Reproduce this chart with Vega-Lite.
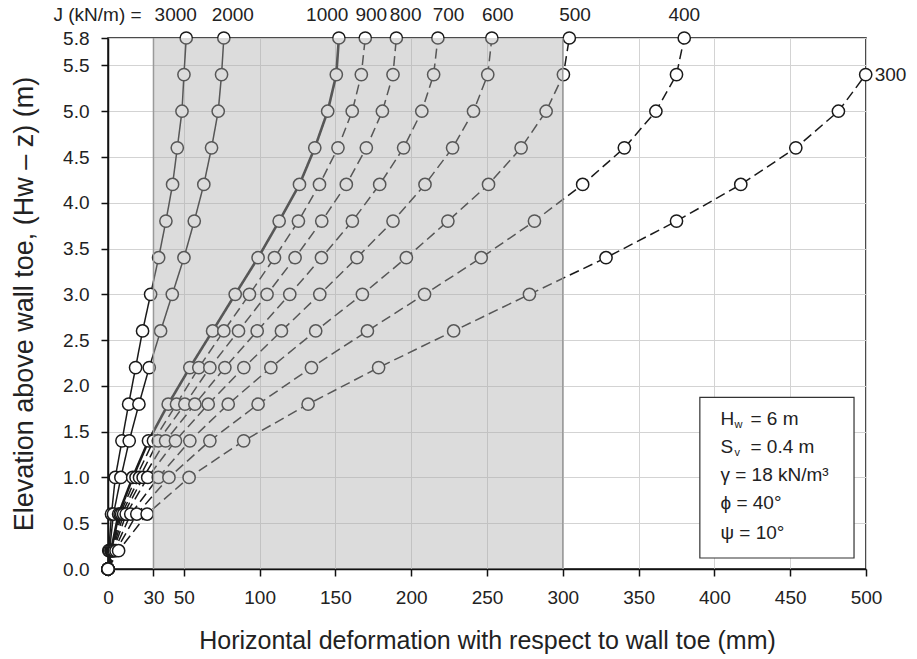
{
  "$schema": "https://vega.github.io/schema/vega-lite/v6.json",
  "width": 758,
  "height": 531,
  "autosize": {"type": "none"},
  "padding": {"left": 108, "top": 38, "right": 51, "bottom": 90},
  "background": "white",
  "config": {
    "font": "Liberation Sans",
    "view": {"stroke": "#111111", "strokeWidth": 1.5},
    "axis": {
      "domainColor": "#111111",
      "domainWidth": 1.5,
      "tickColor": "#111111",
      "tickWidth": 1.5,
      "tickSize": 7,
      "gridColor": "#d3d3d3",
      "gridWidth": 1,
      "labelFont": "Liberation Sans",
      "labelFontSize": 19,
      "labelColor": "#222222",
      "labelOverlap": false,
      "labelFlush": false,
      "titleFont": "Liberation Sans",
      "titleFontWeight": "normal",
      "titleColor": "#222222"
    }
  },
  "datasets": {
    "series": [
      {"J": 3000, "y": 0, "x": 0}, {"J": 3000, "y": 0.2, "x": 0.5}, {"J": 3000, "y": 0.6, "x": 2.3}, {"J": 3000, "y": 1.0, "x": 4.8}, {"J": 3000, "y": 1.4, "x": 9.2}, {"J": 3000, "y": 1.8, "x": 13.6}, {"J": 3000, "y": 2.2, "x": 18.2}, {"J": 3000, "y": 2.6, "x": 22.8}, {"J": 3000, "y": 3.0, "x": 28.1}, {"J": 3000, "y": 3.4, "x": 33.4}, {"J": 3000, "y": 3.8, "x": 38.2}, {"J": 3000, "y": 4.2, "x": 42.6}, {"J": 3000, "y": 4.6, "x": 45.7}, {"J": 3000, "y": 5.0, "x": 48.8}, {"J": 3000, "y": 5.4, "x": 50.1}, {"J": 3000, "y": 5.8, "x": 51.6},
      {"J": 2000, "y": 0, "x": 0}, {"J": 2000, "y": 0.2, "x": 1.0}, {"J": 2000, "y": 0.6, "x": 3.6}, {"J": 2000, "y": 1.0, "x": 8.5}, {"J": 2000, "y": 1.4, "x": 14.0}, {"J": 2000, "y": 1.8, "x": 20.4}, {"J": 2000, "y": 2.2, "x": 27.2}, {"J": 2000, "y": 2.6, "x": 34.7}, {"J": 2000, "y": 3.0, "x": 42.4}, {"J": 2000, "y": 3.4, "x": 50.1}, {"J": 2000, "y": 3.8, "x": 56.9}, {"J": 2000, "y": 4.2, "x": 63.2}, {"J": 2000, "y": 4.6, "x": 68.3}, {"J": 2000, "y": 5.0, "x": 72.7}, {"J": 2000, "y": 5.4, "x": 74.9}, {"J": 2000, "y": 5.8, "x": 76.4},
      {"J": 1000, "y": 0, "x": 0}, {"J": 1000, "y": 0.2, "x": 2.0}, {"J": 1000, "y": 0.6, "x": 7.0}, {"J": 1000, "y": 1.0, "x": 16.3}, {"J": 1000, "y": 1.4, "x": 26.7}, {"J": 1000, "y": 1.8, "x": 39.7}, {"J": 1000, "y": 2.2, "x": 54.0}, {"J": 1000, "y": 2.6, "x": 69.0}, {"J": 1000, "y": 3.0, "x": 83.9}, {"J": 1000, "y": 3.4, "x": 99.0}, {"J": 1000, "y": 3.8, "x": 112.9}, {"J": 1000, "y": 4.2, "x": 126.3}, {"J": 1000, "y": 4.6, "x": 136.4}, {"J": 1000, "y": 5.0, "x": 144.9}, {"J": 1000, "y": 5.4, "x": 150.6}, {"J": 1000, "y": 5.8, "x": 152.3},
      {"J": 900, "y": 0, "x": 0}, {"J": 900, "y": 0.2, "x": 2.3}, {"J": 900, "y": 0.6, "x": 8.0}, {"J": 900, "y": 1.0, "x": 18.5}, {"J": 900, "y": 1.4, "x": 30.0}, {"J": 900, "y": 1.8, "x": 45.2}, {"J": 900, "y": 2.2, "x": 59.9}, {"J": 900, "y": 2.6, "x": 76.4}, {"J": 900, "y": 3.0, "x": 93.3}, {"J": 900, "y": 3.4, "x": 109.8}, {"J": 900, "y": 3.8, "x": 125.6}, {"J": 900, "y": 4.2, "x": 139.5}, {"J": 900, "y": 4.6, "x": 151.7}, {"J": 900, "y": 5.0, "x": 161.1}, {"J": 900, "y": 5.4, "x": 167.1}, {"J": 900, "y": 5.8, "x": 169.7},
      {"J": 800, "y": 0, "x": 0}, {"J": 800, "y": 0.2, "x": 2.6}, {"J": 800, "y": 0.6, "x": 9.0}, {"J": 800, "y": 1.0, "x": 20.8}, {"J": 800, "y": 1.4, "x": 33.2}, {"J": 800, "y": 1.8, "x": 50.7}, {"J": 800, "y": 2.2, "x": 67.2}, {"J": 800, "y": 2.6, "x": 86.1}, {"J": 800, "y": 3.0, "x": 104.9}, {"J": 800, "y": 3.4, "x": 123.4}, {"J": 800, "y": 3.8, "x": 141.0}, {"J": 800, "y": 4.2, "x": 157.2}, {"J": 800, "y": 4.6, "x": 170.4}, {"J": 800, "y": 5.0, "x": 181.0}, {"J": 800, "y": 5.4, "x": 188.0}, {"J": 800, "y": 5.8, "x": 190.2},
      {"J": 700, "y": 0, "x": 0}, {"J": 700, "y": 0.2, "x": 3.0}, {"J": 700, "y": 0.6, "x": 10.3}, {"J": 700, "y": 1.0, "x": 23.2}, {"J": 700, "y": 1.4, "x": 38.0}, {"J": 700, "y": 1.8, "x": 57.3}, {"J": 700, "y": 2.2, "x": 77.1}, {"J": 700, "y": 2.6, "x": 98.4}, {"J": 700, "y": 3.0, "x": 119.9}, {"J": 700, "y": 3.4, "x": 140.8}, {"J": 700, "y": 3.8, "x": 161.2}, {"J": 700, "y": 4.2, "x": 179.2}, {"J": 700, "y": 4.6, "x": 195.0}, {"J": 700, "y": 5.0, "x": 207.0}, {"J": 700, "y": 5.4, "x": 214.8}, {"J": 700, "y": 5.8, "x": 217.6},
      {"J": 600, "y": 0, "x": 0}, {"J": 600, "y": 0.2, "x": 3.5}, {"J": 600, "y": 0.6, "x": 12.0}, {"J": 600, "y": 1.0, "x": 26.2}, {"J": 600, "y": 1.4, "x": 44.5}, {"J": 600, "y": 1.8, "x": 66.1}, {"J": 600, "y": 2.2, "x": 89.6}, {"J": 600, "y": 2.6, "x": 114.4}, {"J": 600, "y": 3.0, "x": 139.7}, {"J": 600, "y": 3.4, "x": 164.2}, {"J": 600, "y": 3.8, "x": 188.0}, {"J": 600, "y": 4.2, "x": 209.1}, {"J": 600, "y": 4.6, "x": 227.3}, {"J": 600, "y": 5.0, "x": 241.1}, {"J": 600, "y": 5.4, "x": 250.5}, {"J": 600, "y": 5.8, "x": 253.2},
      {"J": 500, "y": 0, "x": 0}, {"J": 500, "y": 0.2, "x": 4.2}, {"J": 500, "y": 0.6, "x": 15.0}, {"J": 500, "y": 1.0, "x": 33.2}, {"J": 500, "y": 1.4, "x": 54.0}, {"J": 500, "y": 1.8, "x": 79.3}, {"J": 500, "y": 2.2, "x": 107.4}, {"J": 500, "y": 2.6, "x": 137.0}, {"J": 500, "y": 3.0, "x": 167.8}, {"J": 500, "y": 3.4, "x": 196.8}, {"J": 500, "y": 3.8, "x": 224.2}, {"J": 500, "y": 4.2, "x": 251.0}, {"J": 500, "y": 4.6, "x": 272.5}, {"J": 500, "y": 5.0, "x": 289.0}, {"J": 500, "y": 5.4, "x": 300.4}, {"J": 500, "y": 5.8, "x": 304.3},
      {"J": 400, "y": 0, "x": 0}, {"J": 400, "y": 0.2, "x": 5.3}, {"J": 400, "y": 0.6, "x": 19.0}, {"J": 400, "y": 1.0, "x": 40.2}, {"J": 400, "y": 1.4, "x": 67.2}, {"J": 400, "y": 1.8, "x": 99.0}, {"J": 400, "y": 2.2, "x": 134.2}, {"J": 400, "y": 2.6, "x": 171.1}, {"J": 400, "y": 3.0, "x": 208.8}, {"J": 400, "y": 3.4, "x": 246.2}, {"J": 400, "y": 3.8, "x": 281.3}, {"J": 400, "y": 4.2, "x": 313.1}, {"J": 400, "y": 4.6, "x": 340.6}, {"J": 400, "y": 5.0, "x": 361.4}, {"J": 400, "y": 5.4, "x": 375.0}, {"J": 400, "y": 5.8, "x": 380.1},
      {"J": 300, "y": 0, "x": 0}, {"J": 300, "y": 0.2, "x": 7.0}, {"J": 300, "y": 0.6, "x": 25.8}, {"J": 300, "y": 1.0, "x": 53.5}, {"J": 300, "y": 1.4, "x": 89.5}, {"J": 300, "y": 1.8, "x": 132.0}, {"J": 300, "y": 2.2, "x": 178.5}, {"J": 300, "y": 2.6, "x": 228.0}, {"J": 300, "y": 3.0, "x": 278.0}, {"J": 300, "y": 3.4, "x": 328.5}, {"J": 300, "y": 3.8, "x": 375.0}, {"J": 300, "y": 4.2, "x": 417.4}, {"J": 300, "y": 4.6, "x": 453.7}, {"J": 300, "y": 5.0, "x": 481.8}, {"J": 300, "y": 5.4, "x": 499.8}
    ],
    "shade": [{"x": 30, "x2": 300, "y": 0, "y2": 5.8}],
    "edges": [{"x": 30}, {"x": 300}],
    "box": [{"x": 390.4, "x2": 492.1, "y": 0.12, "y2": 1.875}],
    "jlabels": [
      {"t": "3000", "x": 44.7, "y": 5.8}, {"t": "2000", "x": 82.3, "y": 5.8}, {"t": "1000", "x": 144.6, "y": 5.8}, {"t": "900", "x": 173.7, "y": 5.8}, {"t": "800", "x": 196.3, "y": 5.8}, {"t": "700", "x": 224.6, "y": 5.8}, {"t": "600", "x": 257.1, "y": 5.8}, {"t": "500", "x": 308.1, "y": 5.8}, {"t": "400", "x": 380.1, "y": 5.8}
    ],
    "jhead": [{"t": "J (kN/m) =", "x": 22.2, "y": 5.8}],
    "jright": [{"t": "300", "x": 499.8, "y": 5.4}],
    "ltext": [
      {"a": "H", "s": "w", "r": "= 6 m", "x": 404, "y": 1.64},
      {"a": "S", "s": "v", "r": "= 0.4 m", "x": 404, "y": 1.33},
      {"a": "γ = 18 kN/m³", "x": 404, "y": 1.03},
      {"a": "ϕ = 40°", "x": 404, "y": 0.72},
      {"a": "ψ = 10°", "x": 404, "y": 0.39}
    ]
  },
  "layer": [
    {
      "data": {"name": "series"},
      "mark": {"type": "line", "color": "#1a1a1a", "clip": false},
      "encoding": {
        "x": {
          "field": "x", "type": "quantitative",
          "scale": {"domain": [0, 500], "nice": false, "zero": false},
          "axis": {"values": [0, 30, 50, 100, 150, 200, 250, 300, 350, 400, 450, 500], "labelPadding": 12, "titlePadding": 21, "titleFontSize": 25, "title": "Horizontal deformation with respect to wall toe (mm)"}
        },
        "y": {
          "field": "y", "type": "quantitative",
          "scale": {"domain": [0, 5.8], "nice": false, "zero": false},
          "axis": {"values": [0, 0.5, 1, 1.5, 2, 2.5, 3, 3.5, 4, 4.5, 5, 5.5, 5.8], "format": ".1f", "labelPadding": 12, "titlePadding": 24, "titleFontSize": 27, "title": "Elevation above wall toe, (Hw – z) (m)"}
        },
        "order": {"field": "y", "type": "quantitative"},
        "detail": {"field": "J", "type": "nominal"},
        "strokeDash": {
          "field": "J", "type": "quantitative", "legend": null,
          "scale": {"type": "threshold", "domain": [950], "range": [[10, 5], [1, 0]]}
        },
        "strokeWidth": {"condition": {"test": "datum.J == 1000", "value": 2.6}, "value": 1.5}
      }
    },
    {
      "data": {"name": "series"},
      "mark": {"type": "point", "shape": "circle", "filled": false, "fill": "white", "fillOpacity": 1, "stroke": "#1a1a1a", "strokeWidth": 1.5, "size": 150, "opacity": 1, "clip": false},
      "encoding": {
        "x": {"field": "x", "type": "quantitative"},
        "y": {"field": "y", "type": "quantitative"}
      }
    },
    {
      "data": {"name": "box"},
      "mark": {"type": "rect", "fill": "white", "stroke": "#333333", "strokeWidth": 1.2},
      "encoding": {
        "x": {"field": "x", "type": "quantitative"},
        "x2": {"field": "x2"},
        "y": {"field": "y", "type": "quantitative"},
        "y2": {"field": "y2"}
      }
    },
    {
      "data": {"name": "shade"},
      "mark": {"type": "rect", "fill": "#ababab", "fillOpacity": 0.42, "strokeWidth": 0},
      "encoding": {
        "x": {"field": "x", "type": "quantitative"},
        "x2": {"field": "x2"},
        "y": {"field": "y", "type": "quantitative"},
        "y2": {"field": "y2"}
      }
    },
    {
      "data": {"name": "edges"},
      "mark": {"type": "rule", "color": "#9a9a9a", "strokeWidth": 1.5},
      "encoding": {
        "x": {"field": "x", "type": "quantitative"}
      }
    },
    {
      "data": {"name": "jlabels"},
      "mark": {"type": "text", "align": "center", "baseline": "middle", "dy": -23, "fontSize": 19, "color": "#222222"},
      "encoding": {
        "x": {"field": "x", "type": "quantitative"},
        "y": {"field": "y", "type": "quantitative"},
        "text": {"field": "t"}
      }
    },
    {
      "data": {"name": "jhead"},
      "mark": {"type": "text", "align": "right", "baseline": "middle", "dy": -23, "fontSize": 19, "color": "#222222"},
      "encoding": {
        "x": {"field": "x", "type": "quantitative"},
        "y": {"field": "y", "type": "quantitative"},
        "text": {"field": "t"}
      }
    },
    {
      "data": {"name": "jright"},
      "mark": {"type": "text", "align": "left", "baseline": "middle", "dx": 9, "fontSize": 19, "color": "#222222"},
      "encoding": {
        "x": {"field": "x", "type": "quantitative"},
        "y": {"field": "y", "type": "quantitative"},
        "text": {"field": "t"}
      }
    },
    {
      "data": {"name": "ltext"},
      "mark": {"type": "text", "align": "left", "baseline": "middle", "fontSize": 19, "color": "#222222"},
      "encoding": {
        "x": {"field": "x", "type": "quantitative"},
        "y": {"field": "y", "type": "quantitative"},
        "text": {"field": "a"}
      }
    },
    {
      "data": {"name": "ltext"},
      "transform": [{"filter": "isValid(datum.s)"}],
      "mark": {"type": "text", "align": "left", "baseline": "middle", "dx": 14, "dy": 6, "fontSize": 11, "color": "#222222"},
      "encoding": {
        "x": {"field": "x", "type": "quantitative"},
        "y": {"field": "y", "type": "quantitative"},
        "text": {"field": "s"}
      }
    },
    {
      "data": {"name": "ltext"},
      "transform": [{"filter": "isValid(datum.r)"}],
      "mark": {"type": "text", "align": "left", "baseline": "middle", "dx": 30, "fontSize": 19, "color": "#222222"},
      "encoding": {
        "x": {"field": "x", "type": "quantitative"},
        "y": {"field": "y", "type": "quantitative"},
        "text": {"field": "r"}
      }
    }
  ]
}
